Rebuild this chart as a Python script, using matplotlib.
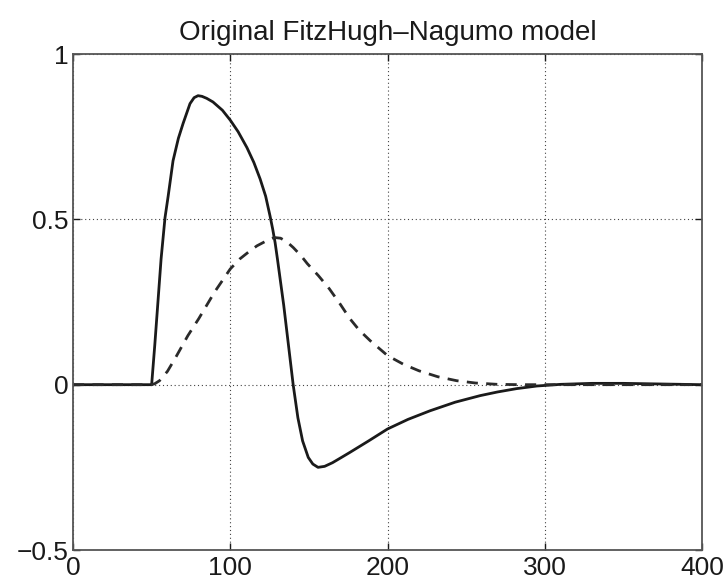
import matplotlib.pyplot as plt

plt.rcParams['font.family'] = ['Liberation Sans', 'DejaVu Sans']

# solid curve (v)
t_v = [0, 50, 52, 54, 56, 58.5, 60.5, 63.6, 67, 70, 74.4, 77, 79.5, 82, 85, 89,
       95, 100, 105, 110.6, 115, 119, 122.5, 125.3, 127, 128.5, 130, 132, 134,
       137, 140, 143, 146, 149.6, 152.5, 155.8, 160, 165, 170, 176, 188, 200,
       213, 227, 243, 259, 270, 282, 295, 310, 330, 350, 375, 400]
v = [0, 0, 0.12, 0.25, 0.38, 0.505, 0.57, 0.677, 0.745, 0.79, 0.85, 0.868, 0.874,
     0.872, 0.866, 0.855, 0.83, 0.80, 0.765, 0.717, 0.672, 0.622, 0.57, 0.51,
     0.47, 0.43, 0.38, 0.31, 0.24, 0.12, 0.0, -0.1, -0.17, -0.22, -0.24, -0.25,
     -0.247, -0.236, -0.222, -0.205, -0.17, -0.134, -0.105, -0.079, -0.053,
     -0.033, -0.022, -0.012, -0.004, 0.001, 0.004, 0.004, 0.002, 0.0]

# dashed curve (w)
t_w = [0, 50, 52, 55, 60, 65, 73, 80, 90, 100, 106, 112.6, 117, 121, 125, 128,
       132, 136, 140, 145, 149, 156, 163, 170, 176, 182, 189, 200, 210, 220, 232,
       244, 256, 270, 285, 300, 350, 400]
w = [0, 0, 0.003, 0.012, 0.04, 0.08, 0.148, 0.2, 0.28, 0.35, 0.38, 0.405, 0.42,
     0.43, 0.44, 0.445, 0.443, 0.432, 0.415, 0.39, 0.366, 0.33, 0.29, 0.243,
     0.2, 0.165, 0.133, 0.088, 0.062, 0.042, 0.024, 0.012, 0.005, 0.001, 0.0,
     0.0, 0.0, 0.0]

x_ticks = [0, 100, 200, 300, 400]
y_ticks = [-0.5, 0, 0.5, 1]
y_labels = ['\u22120.5', '0', '0.5', '1']

fig = plt.figure(figsize=(7.28, 5.84), dpi=100)
ax = fig.add_axes([0.1003, 0.0582, 0.864, 0.8493])

ax.plot(t_v, v, color='#1a1a1a', lw=2.0, solid_joinstyle='round')
ax.plot(t_w, w, color='#2a2a2a', lw=2.0, linestyle=(0, (4, 3)))

ax.set_xlim(0, 400)
ax.set_ylim(-0.5, 1)
ax.set_xticks(x_ticks)
ax.set_yticks(y_ticks)
ax.set_yticklabels(y_labels)

# MATLAB style dotted grid
ax.grid(True, color='#444444', linestyle=(0, (1, 2.5)), linewidth=0.8)
ax.tick_params(direction='in', length=5, width=1, top=True, right=True,
               labelsize=19, colors='#1a1a1a')
ax.tick_params(axis='x', pad=4)
ax.tick_params(axis='y', pad=3)
for s in ax.spines.values():
    s.set_color('#555555')
    s.set_linewidth(1.3)

ax.set_title('Original FitzHugh\u2013Nagumo model', fontsize=20, color='#1a1a1a', pad=10)

fig.savefig('out.png', dpi=100)
